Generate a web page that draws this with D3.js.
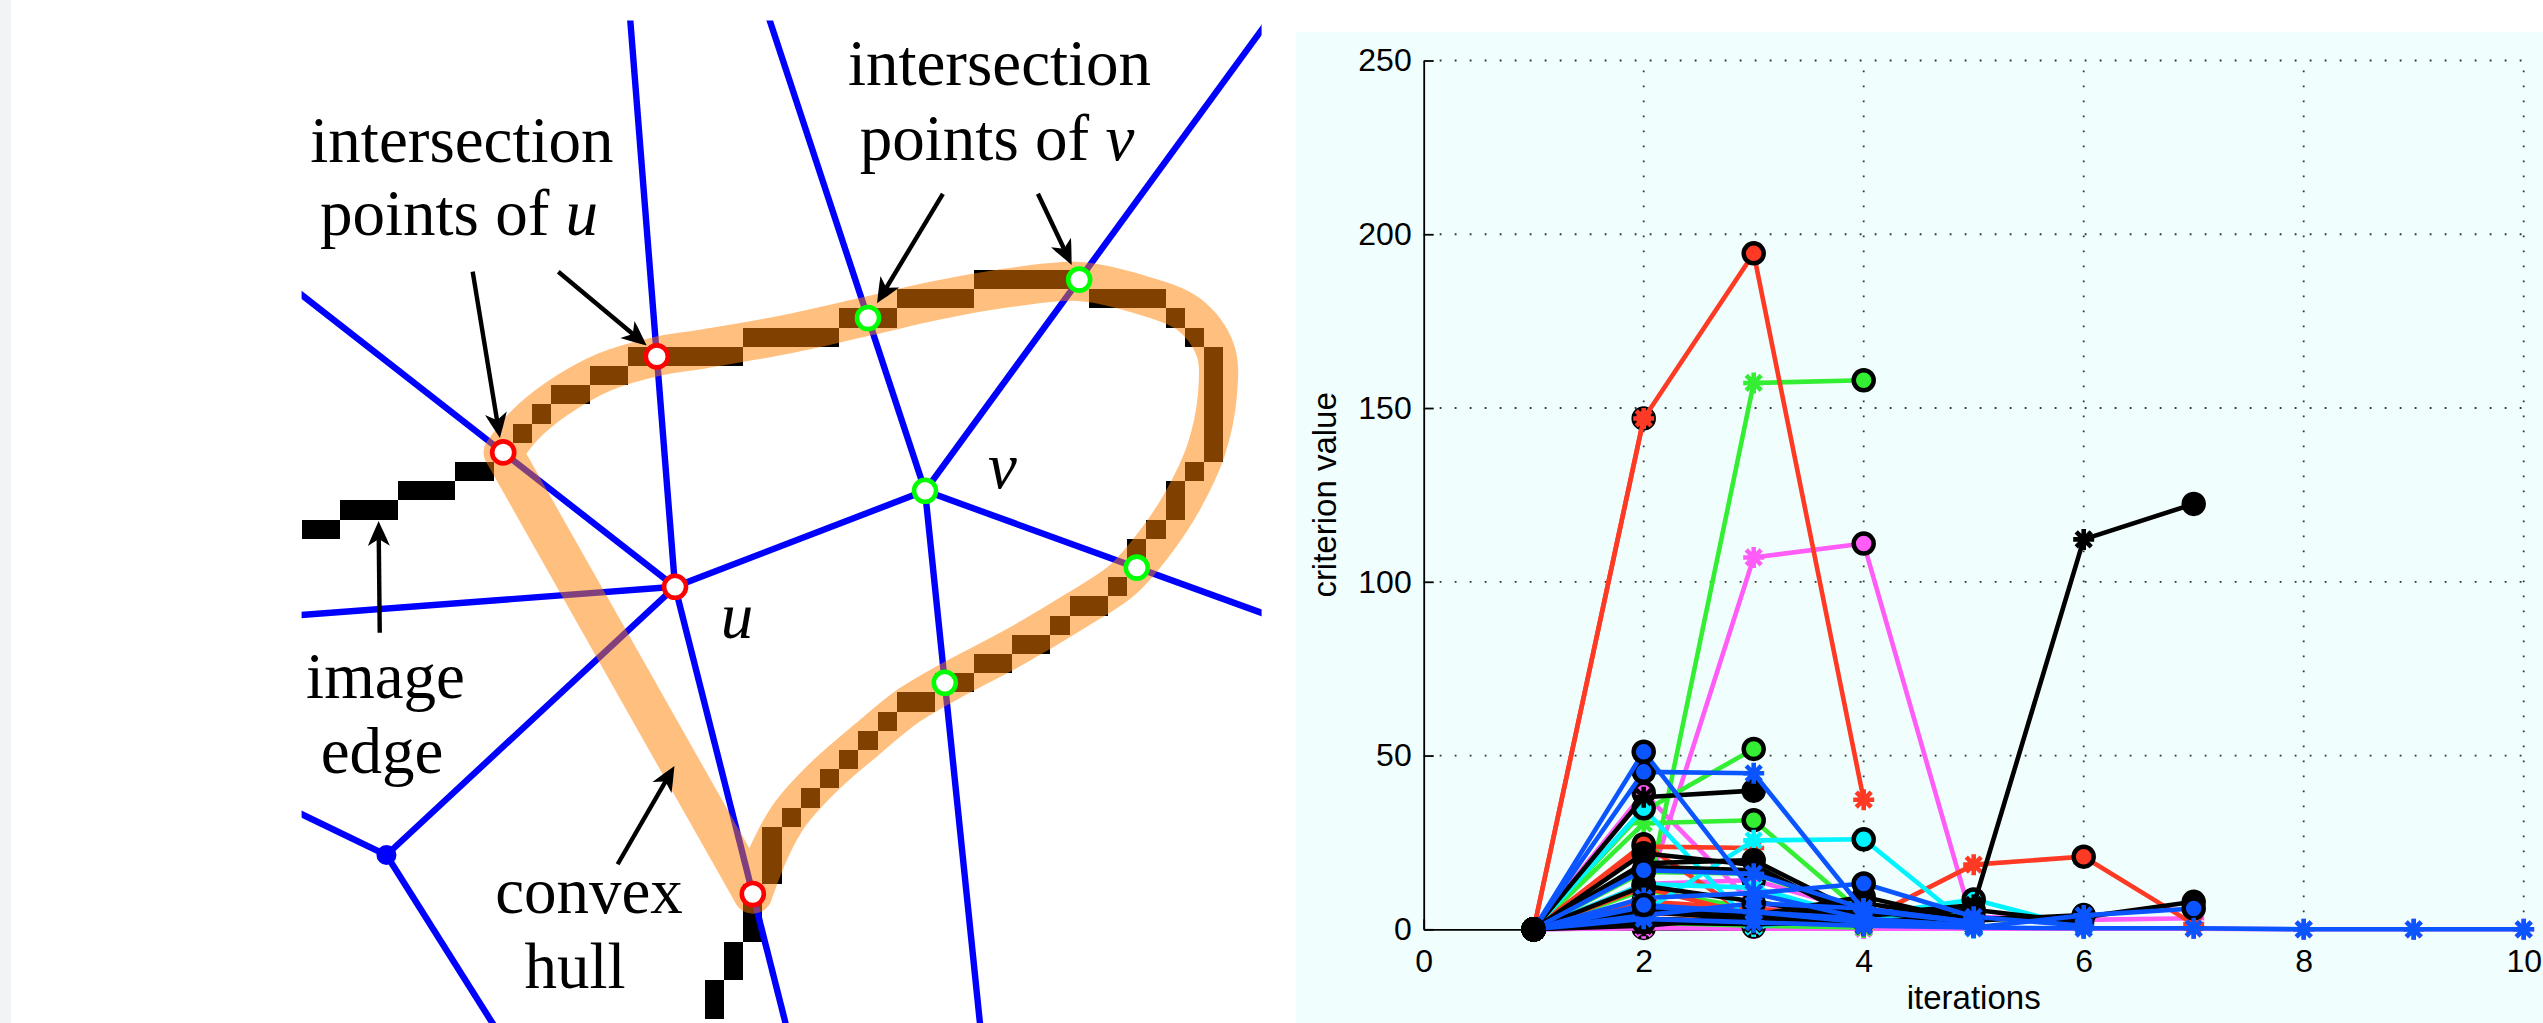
<!DOCTYPE html>
<html>
<head>
<meta charset="utf-8">
<script src="https://cdn.jsdelivr.net/npm/d3@7"></script>
<style>
  html, body { margin: 0; padding: 0; background: #fff; overflow: hidden; }
  svg { display: block; }
</style>
</head>
<body>
<svg id="fig" width="2543" height="1023"></svg>
<script>
// ---------------- right panel: criterion value per iteration ----------------
const iterations = [1, 2, 3, 4, 5, 6, 7, 8, 9, 10];
const xTicks = [0, 2, 4, 6, 8, 10];
const yTicks = [0, 50, 100, 150, 200, 250];

// one array per run, grouped by line colour
const magentaRuns = [
  [0, 0.4, 0.2, 0.2, 0.2, 0.2, 0.2, 0, 0, 0],
  [0, 0.3, 0.8, 0.3],
  [0, 2, 1.5, 1, 3.6, 2.7, 3.2],
  [0, 13, 14.2, 5, 2],
  [0, 39.3, 7, 2, 1],
  [0, 8, 107, 111, 1]
];
const greenRuns = [
  [0, 2, 1, 0.5],
  [0, 8, 5, 4, 1],
  [0, 11.3, 6, 3, 1],
  [0, 16.5, 16, 5, 2],
  [0, 30.5, 31.4, 4.5, 1],
  [0, 34, 51.9],
  [0, 4.5, 157.2, 158]
];
const redRuns = [
  [0, 147],
  [0, 23.8, 23.4],
  [0, 24.5, 3, 1],
  [0, 4.7, 3.6, 2, 1],
  [0, 8, 6, 3],
  [0, 12, 4, 1.5],
  [0, 3, 2.5, 2.5, 18.6, 20.9, 1.5],
  [0, 147, 194.5, 37.3]
];
const cyanRuns = [
  [0, 13, 12, 3, 1],
  [0, 3, 2, 4, 8.6, 0.3],
  [0, 5, 25.6, 25.9, 0.3],
  [0, 34.8, 0.8, 4.1, 0.5]
];
const blackRuns = [
  [0, 1, 3.6, 1],
  [0, 3, 2, 5.6, 1],
  [0, 5, 3, 7.5, 3],
  [0, 6, 4, 9.4, 2],
  [0, 2, 3, 4, 5.6, 2],
  [0, 2, 1.5, 2, 2.5, 4.1],
  [0, 3, 2, 2.5, 3, 3.5, 7.9],
  [0, 12.5, 8, 3],
  [0, 21.9, 18.5, 2],
  [0, 19, 19.9, 4],
  [0, 38, 39.9],
  [0, 18, 17, 4, 7, 112.2, 122.4]
];
const blueRuns = [
  [0, 4, 7.5, 6, 2],
  [0, 6.5, 5, 3, 1],
  [0, 17, 16, 6, 2],
  [0, 9, 10.4, 13.2, 3.6, 1],
  [0, 3, 2, 1, 0.5, 4, 6],
  [0, 45.3, 44.9, 5.5, 2],
  [0, 51.1, 10.4, 3, 1],
  [0, 7, 5, 2, 0.5, 0.3, 0.3, 0, 0, 0]
];
const runGroups = [
  { color: "#ff5cf8", runs: magentaRuns },
  { color: "#33ee33", runs: greenRuns },
  { color: "#ff3a24", runs: redRuns },
  { color: "#00f4ff", runs: cyanRuns },
  { color: "#000000", runs: blackRuns },
  { color: "#0a55ff", runs: blueRuns }
];

// ---------------- left panel: edge pixels, Voronoi edges, hull ----------------
// pixel runs of the image edge: [row, first column, last column]
const edgePixelRuns = [
  [26, 0, 1], [25, 2, 4], [24, 5, 7], [23, 8, 9],
  [22, 10, 10], [21, 11, 11], [20, 12, 12], [19, 13, 14], [18, 15, 16],
  [17, 17, 22], [16, 23, 27], [15, 28, 30], [14, 31, 34], [13, 35, 40],
  [14, 41, 44], [15, 45, 45], [16, 46, 46],
  [17, 47, 47], [18, 47, 47], [19, 47, 47], [20, 47, 47], [21, 47, 47], [22, 47, 47],
  [23, 46, 46], [24, 45, 45], [25, 45, 45], [26, 44, 44], [27, 43, 43], [28, 43, 43],
  [29, 42, 42], [30, 40, 41], [31, 39, 39], [32, 37, 38], [33, 35, 36], [34, 33, 34],
  [35, 31, 32], [36, 30, 30], [37, 29, 29], [38, 28, 28], [39, 27, 27], [40, 26, 26],
  [41, 25, 25], [42, 24, 24], [43, 24, 24], [44, 24, 24],
  [45, 23, 23], [46, 23, 23], [47, 23, 23], [48, 22, 22], [49, 22, 22],
  [50, 21, 21], [51, 21, 21]
];
// Voronoi vertices (grid units)
const vertexU = [19.45, 29.5];
const vertexV = [32.47, 24.5];
const vertexB = [4.42, 43.47];
const voronoiEdges = [
  [vertexU, [17.04, -1]],
  [vertexU, [25.40, 53]],
  [vertexU, [-1, 31.04]],
  [vertexU, [-1, 13.51]],
  [vertexU, vertexB],
  [vertexU, vertexV],
  [vertexB, [-1, 40.86]],
  [vertexB, [10.43, 53]],
  [vertexV, [24.05, -1]],
  [vertexV, [51, -0.87]],
  [vertexV, [51, 31.22]],
  [vertexV, [35.41, 53]]
];
// convex hull band: straight side and curved side (grid units)
const hullStraight = [[10.5, 22.5], [23.5, 45.5]];
const hullCurve = [
  [23.5, 45.5], [24.4, 43.2], [25.4, 41.4], [27.2, 39.4], [29.5, 37.4],
  [31.6, 35.7], [33.8, 34.4], [37.2, 32.6], [40.4, 30.7], [42.8, 29.1],
  [44.6, 27.0], [45.9, 25.0], [47.1, 22.4], [47.7, 19.5], [47.6, 17.2],
  [46.2, 15.3], [43.4, 14.2], [40.5, 13.6], [37.0, 13.9], [33.0, 14.6],
  [29.5, 15.4], [25.5, 16.3], [21.0, 17.1], [18.5, 17.5], [15.8, 18.3],
  [13.3, 19.7], [11.6, 21.1], [10.5, 22.5]
];
const pointsOfU = [[10.5, 22.5], [18.5, 17.5], vertexU, [23.5, 45.5]];
const pointsOfV = [vertexV, [29.5, 15.5], [40.5, 13.5], [43.5, 28.5], [33.5, 34.5]];
// arrows: [tail, tip]
const arrows = [
  [[8.91, 13.09], [10.33, 21.75]],
  [[13.37, 13.09], [17.97, 16.93]],
  [[4.07, 31.89], [4.01, 26.07]],
  [[33.40, 9.03], [29.97, 14.73]],
  [[38.35, 9.03], [40.11, 12.74]],
  [[16.46, 43.95], [19.42, 38.83]]
];
// text labels: [x, baseline, lines]
const captions = [
  { x: 8.35, y: 7.38, parts: [["intersection", false]] },
  { x: 8.20, y: 11.18, parts: [["points of ", false], ["u", true]] },
  { x: 36.35, y: 3.36, parts: [["intersection", false]] },
  { x: 36.22, y: 7.27, parts: [["points of ", false], ["v", true]] },
  { x: 4.37, y: 35.29, parts: [["image", false]] },
  { x: 4.19, y: 39.20, parts: [["edge", false]] },
  { x: 14.97, y: 46.49, parts: [["convex", false]] },
  { x: 14.24, y: 50.40, parts: [["hull", false]] }
];
const vertexLabels = [
  { x: 21.83, y: 32.17, text: "u" },
  { x: 35.75, y: 24.35, text: "v" }
];

// ============================================================================
const svg = d3.select("#fig");
const W = 2543, H = 1023;

svg.append("rect").attr("width", W).attr("height", H).attr("fill", "#ffffff");
svg.append("rect").attr("width", 11).attr("height", H).attr("fill", "#f2f3f5");

// ---------------- diagram ----------------
const gx = d3.scaleLinear().domain([0, 50]).range([301.6, 1261.6]);
const gy = d3.scaleLinear().domain([0, 52]).range([20.4, 1018.8]);
const cell = gx(1) - gx(0);

svg.append("defs").append("clipPath").attr("id", "diagClip")
  .append("rect")
  .attr("x", gx(0)).attr("y", gy(0))
  .attr("width", gx(50) - gx(0)).attr("height", H - gy(0));

const diag = svg.append("g").attr("clip-path", "url(#diagClip)");

// edge pixels
diag.append("g").selectAll("rect").data(edgePixelRuns).join("rect")
  .attr("x", d => gx(d[1]))
  .attr("y", d => gy(d[0]))
  .attr("width", d => gx(d[2] + 1) - gx(d[1]))
  .attr("height", cell)
  .attr("fill", "#000")
  .attr("shape-rendering", "crispEdges");

// Voronoi edges
diag.append("g").selectAll("line").data(voronoiEdges).join("line")
  .attr("x1", d => gx(d[0][0])).attr("y1", d => gy(d[0][1]))
  .attr("x2", d => gx(d[1][0])).attr("y2", d => gy(d[1][1]))
  .attr("stroke", "#0000ff").attr("stroke-width", 6.4);

diag.append("circle")
  .attr("cx", gx(vertexB[0])).attr("cy", gy(vertexB[1]))
  .attr("r", 10).attr("fill", "#0000ff");

// convex hull band, translucent orange
const band = diag.append("g").attr("opacity", 0.5);
const straightGen = d3.line().x(d => gx(d[0])).y(d => gy(d[1]));
const curveGen = d3.line().x(d => gx(d[0])).y(d => gy(d[1])).curve(d3.curveCatmullRom.alpha(0.5));
band.append("path").attr("d", straightGen(hullStraight))
  .attr("fill", "none").attr("stroke", "#ff8000").attr("stroke-width", 39)
  .attr("stroke-linecap", "round").attr("stroke-linejoin", "round");
band.append("path").attr("d", curveGen(hullCurve))
  .attr("fill", "none").attr("stroke", "#ff8000").attr("stroke-width", 39)
  .attr("stroke-linecap", "round").attr("stroke-linejoin", "round");

// intersection rings
function rings(points, color) {
  diag.append("g").selectAll("circle").data(points).join("circle")
    .attr("cx", d => gx(d[0])).attr("cy", d => gy(d[1]))
    .attr("r", 11).attr("fill", "#fff")
    .attr("stroke", color).attr("stroke-width", 4.6);
}
rings(pointsOfU, "#ff0000");
rings(pointsOfV, "#00ff00");

// arrows
const arrowG = svg.append("g");
arrows.forEach(([tail, tip]) => {
  const x1 = gx(tail[0]), y1 = gy(tail[1]), x2 = gx(tip[0]), y2 = gy(tip[1]);
  const ang = Math.atan2(y2 - y1, x2 - x1);
  const len = Math.hypot(x2 - x1, y2 - y1);
  const g = arrowG.append("g")
    .attr("transform", `translate(${x2},${y2}) rotate(${ang * 180 / Math.PI})`);
  g.append("line").attr("x1", -len).attr("y1", 0).attr("x2", -16).attr("y2", 0)
    .attr("stroke", "#000").attr("stroke-width", 4.4);
  g.append("path")
    .attr("d", "M0,0 C-7,-3 -15,-7 -25,-11 L-18,0 L-25,11 C-15,7 -7,3 0,0 Z")
    .attr("fill", "#000");
});

// captions
const serif = "'Liberation Serif', 'Times New Roman', serif";
const capG = svg.append("g")
  .attr("font-family", serif).attr("font-size", 65).attr("fill", "#000")
  .attr("text-anchor", "middle");
captions.forEach(c => {
  const t = capG.append("text").attr("x", gx(c.x)).attr("y", gy(c.y));
  c.parts.forEach(([s, it]) => {
    t.append("tspan").attr("font-style", it ? "italic" : "normal").text(s);
  });
});
svg.append("g").selectAll("text").data(vertexLabels).join("text")
  .attr("x", d => gx(d.x)).attr("y", d => gy(d.y))
  .attr("font-family", serif).attr("font-size", 65).attr("font-style", "italic")
  .text(d => d.text);

// ---------------- chart ----------------
svg.append("rect").attr("x", 1296).attr("y", 32).attr("width", W - 1296).attr("height", H - 32)
  .attr("fill", "#f0fffe");

const x = d3.scaleLinear().domain([0, 10]).range([1423.7, 2523.7]);
const y = d3.scaleLinear().domain([0, 250]).range([929.3, 60.5]);
const sans = "'Liberation Sans', Arial, Helvetica, sans-serif";

const grid = svg.append("g")
  .attr("stroke", "#333").attr("stroke-width", 1.8).attr("stroke-dasharray", "1.8 13.2");
grid.selectAll(".vg").data(xTicks.filter(d => d > 0)).join("line").attr("class", "vg")
  .attr("x1", d => x(d)).attr("x2", d => x(d))
  .attr("y1", y(0) - 2).attr("y2", y(250));
grid.selectAll(".hg").data(yTicks.filter(d => d > 0)).join("line").attr("class", "hg")
  .attr("y1", d => y(d)).attr("y2", d => y(d))
  .attr("x1", x(0) + 16).attr("x2", x(10));

const yAxis = svg.append("g").attr("transform", `translate(${x(0)},0)`)
  .call(d3.axisLeft(y).tickValues(yTicks).tickSize(-10).tickSizeOuter(0).tickPadding(12));
const xAxis = svg.append("g").attr("transform", `translate(0,${y(0)})`)
  .call(d3.axisBottom(x).tickValues(xTicks).tickSize(-10).tickSizeOuter(0).tickPadding(20));
[yAxis, xAxis].forEach(a => {
  a.attr("font-family", sans).attr("font-size", 32);
  a.selectAll("path.domain").attr("stroke", "#000").attr("stroke-width", 1.8);
  a.selectAll(".tick line").attr("stroke", "#000").attr("stroke-width", 1.8);
  a.selectAll(".tick text").attr("fill", "#000");
});

svg.append("text")
  .attr("x", x(5)).attr("y", 1009)
  .attr("text-anchor", "middle").attr("font-family", sans).attr("font-size", 33)
  .text("iterations");
svg.append("text")
  .attr("transform", `translate(1336,${(y(0) + y(250)) / 2}) rotate(-90)`)
  .attr("text-anchor", "middle").attr("font-family", sans).attr("font-size", 33)
  .text("criterion value");

// runs: line, asterisks on ordinary iterations, circled best value, black start dot
const lineGen = d3.line().x((d, i) => x(iterations[i])).y(d => y(d));
const starPath = "M-10.5,0H10.5M0,-10.5V10.5M-7.5,-7.5L7.5,7.5M-7.5,7.5L7.5,-7.5";
const runsG = svg.append("g");
runGroups.forEach(group => {
  group.runs.forEach(run => {
    const g = runsG.append("g");
    g.append("path").attr("d", lineGen(run))
      .attr("fill", "none").attr("stroke", group.color).attr("stroke-width", 4.6)
      .attr("stroke-linejoin", "round");
    const best = d3.maxIndex(run);
    run.forEach((v, i) => {
      if (i === 0 || i === best) return;
      g.append("path").attr("d", starPath)
        .attr("transform", `translate(${x(iterations[i])},${y(v)})`)
        .attr("stroke", group.color).attr("stroke-width", 4.6).attr("fill", "none");
    });
    g.append("circle")
      .attr("cx", x(iterations[0])).attr("cy", y(run[0]))
      .attr("r", 10).attr("fill", "#000").attr("stroke", "#000").attr("stroke-width", 4.5);
    if (best > 0) {
      g.append("circle")
        .attr("cx", x(iterations[best])).attr("cy", y(run[best]))
        .attr("r", 10).attr("fill", group.color).attr("stroke", "#000").attr("stroke-width", 4.5);
    }
  });
});
</script>
</body>
</html>
